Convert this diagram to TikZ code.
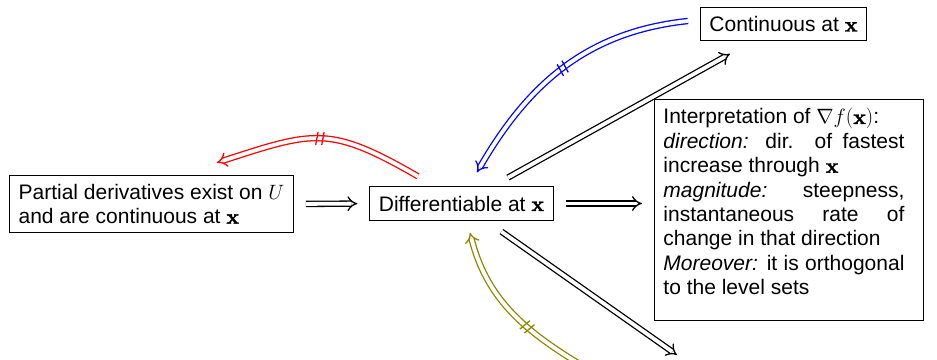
\documentclass[tikz,border=0pt]{standalone}
\usepackage[no-math]{fontspec}
\setmainfont{Liberation Sans}
\newfontfamily\lmbx{lmroman10-bold}[Extension=.otf, FakeBold=1.6]
\newcommand{\bx}{{\lmbx x}}
\usetikzlibrary{arrows,arrows.meta,decorations.markings}
\begin{document}
\begin{tikzpicture}[x=1pt,y=1pt,
  box/.style={draw, line width=0.9, inner sep=9, font=\fontsize{21}{24.4}\selectfont},
  imp/.style={double, double distance=3.8, line width=1.3, -implies},
  nimp/.style={imp, postaction={decorate},
    decoration={markings, mark=at position #1 with {\draw[-, line width=1.3, shorten >=0, shorten <=0] (-4,-6.5)--(-2,6.5) (2,-6.5)--(4,6.5);}}},
  nimp/.default=0.5]
\useasboundingbox (0,0) rectangle (937,-359);
\clip (0,0) rectangle (937,-359);

\node[box, align=left] (pd) at (151.5,-204) {Partial derivatives exist on $U$\\and are continuous at \bx};
\node[box] (diff) at (461.5,-203.5) {Differentiable at \bx};
\node[box] (cont) at (783.5,-24) {Continuous at \bx};
\node[box, anchor=north west, text width=251, align=justify] (interp) at (654,-99)
 {\rightskip=10pt
  Interpretation of $\nabla f($\bx$)$:\par
  \textit{direction:} dir. of fastest\linebreak increase through \bx\par
  \textit{magnitude:} steepness,\linebreak instantaneous rate of\linebreak change in that direction\par
  \textit{Moreover:} it is orthogonal\linebreak to the level sets\par\kern16pt};

\draw[imp, shorten <=12, shorten >=12] (pd.east) -- (diff.west);
\draw[imp, shorten <=12, shorten >=12] (diff.east) -- (diff.east -| interp.west);
\draw[imp, shorten <=18, shorten >=26] (diff) -- (cont);
\coordinate (below) at (677,-355);
\draw[imp, shorten <=19] (diff) -- (below);

\coordinate (rs) at ([xshift=-43.5,yshift=10]diff.north);
\coordinate (re) at ([xshift=65.5,yshift=12]pd.north);
\draw[nimp, red] (rs) to[out=150, in=18, looseness=1.3] (re);

\coordinate (bs) at ([xshift=-12,yshift=3]cont.west);
\coordinate (be) at ([xshift=15.5,yshift=14]diff.north);
\draw[nimp, blue] (bs) to[out=186, in=60] (be);

\coordinate (os) at (600,-376);
\coordinate (oe) at ([xshift=8.5,yshift=-12]diff.south);
\draw[nimp=0.44, olive] (os) to[out=150, in=284] (oe);
\end{tikzpicture}
\end{document}
